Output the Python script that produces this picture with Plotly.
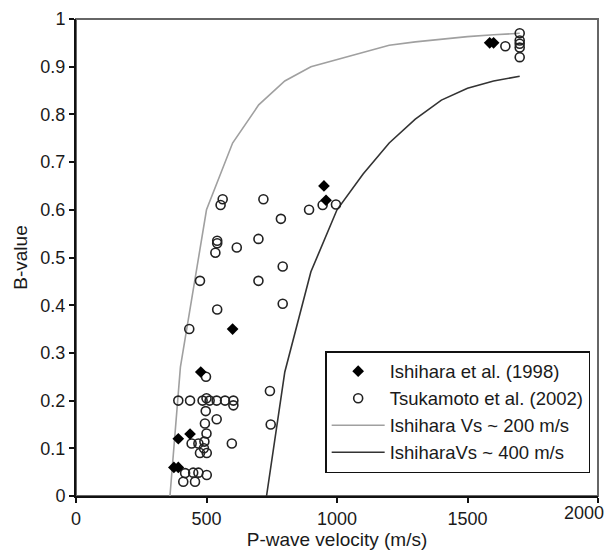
import plotly.graph_objects as go

# Ishihara et al. (1998) - filled diamonds
ish_vp = [1585, 1600, 950, 958, 600, 478, 437, 392, 375, 392]
ish_b = [0.95, 0.95, 0.65, 0.62, 0.35, 0.26, 0.13, 0.12, 0.06, 0.06]

# Tsukamoto et al. (2002) - open circles
tsu_vp = [1645, 1700, 1700, 1700, 1700, 1700,
          996, 945, 893, 785, 718, 562, 554, 699, 541, 541, 616, 534,
          792, 475, 699, 792, 541, 434,
          498, 392, 437, 485, 500, 512, 539, 571, 603, 603, 497, 539,
          494, 500, 743, 746, 443, 469, 492, 490, 475, 501, 597,
          418, 449, 469, 501, 411, 456]
tsu_b = [0.943, 0.97, 0.955, 0.948, 0.94, 0.92,
         0.611, 0.61, 0.60, 0.581, 0.622, 0.622, 0.61, 0.539, 0.535, 0.53, 0.521, 0.51,
         0.481, 0.451, 0.451, 0.403, 0.391, 0.35,
         0.25, 0.20, 0.20, 0.20, 0.205, 0.20, 0.20, 0.20, 0.20, 0.19, 0.178, 0.161,
         0.152, 0.131, 0.22, 0.15, 0.11, 0.11, 0.114, 0.10, 0.09, 0.09, 0.11,
         0.048, 0.049, 0.049, 0.044, 0.03, 0.03]

# Ishihara Vs ~ 200 m/s curve
vs200_vp = [360, 400, 500, 600, 700, 800, 900, 1000, 1100, 1200, 1300, 1400, 1500, 1600, 1700]
vs200_b = [0.0, 0.27, 0.60, 0.74, 0.82, 0.87, 0.90, 0.915, 0.93, 0.945, 0.952, 0.958, 0.963, 0.967, 0.970]

# Ishihara Vs ~ 400 m/s curve
vs400_vp = [730, 800, 900, 1000, 1100, 1200, 1300, 1400, 1500, 1600, 1700]
vs400_b = [0.0, 0.26, 0.47, 0.60, 0.675, 0.74, 0.79, 0.83, 0.855, 0.87, 0.88]

# axis ticks
x_tick_vals = [0, 500, 1000, 1500, 2000]
x_tick_labels = ["0", "500", "1000", "1500", "2000"]

FONT = "Liberation Sans, Arial, sans-serif"
TXT = "#1a1a1a"

fig = go.Figure()
fig.add_trace(go.Scatter(x=vs200_vp, y=vs200_b, mode="lines", name="Ishihara Vs ~ 200 m/s",
                         line=dict(color="#a0a0a0", width=1.6), legendrank=3))
fig.add_trace(go.Scatter(x=vs400_vp, y=vs400_b, mode="lines", name="IshiharaVs ~ 400 m/s",
                         line=dict(color="#333333", width=1.6), legendrank=4))
fig.add_trace(go.Scatter(x=tsu_vp, y=tsu_b, mode="markers", name="Tsukamoto et al. (2002)",
                         marker=dict(symbol="circle-open", size=9, color="#222222",
                                     line=dict(width=1.6, color="#222222")),
                         legendrank=2))
fig.add_trace(go.Scatter(x=ish_vp, y=ish_b, mode="markers", name="Ishihara et al. (1998)",
                         marker=dict(symbol="diamond", size=9, color="#000000"),
                         legendrank=1))

# last x tick label is pulled left to stay inside the page (as in the original)
fig.add_annotation(x=x_tick_vals[-1], y=0, xref="x", yref="paper", text=x_tick_labels[-1],
                   showarrow=False, xanchor="right", yanchor="top", xshift=8, yshift=-5,
                   font=dict(family=FONT, size=18, color=TXT))

fig.update_layout(
    width=610, height=550,
    margin=dict(l=76, r=12, t=19, b=54, autoexpand=False),
    paper_bgcolor="white", plot_bgcolor="white",
    font=dict(family=FONT, size=18, color=TXT),
    showlegend=True,
    legend=dict(x=0.985, y=0.048, xanchor="right", yanchor="bottom",
                bgcolor="white", bordercolor="#111111", borderwidth=1.5,
                font=dict(family=FONT, size=18.5, color=TXT),
                itemwidth=53),
    shapes=[dict(type="rect", xref="paper", yref="paper", x0=0, y0=0, x1=1, y1=1,
                 line=dict(color="#666666", width=2), layer="below")],
)
fig.update_xaxes(range=[0, 2000], tickvals=x_tick_vals,
                 ticktext=x_tick_labels[:-1] + [""],
                 showgrid=False, zeroline=False, automargin=False,
                 showline=True, linecolor="#111111", linewidth=2,
                 ticks="outside", ticklen=5, tickcolor="#111111", tickwidth=1.5,
                 tickfont=dict(size=18, color=TXT),
                 title=dict(text="P-wave velocity (m/s)", font=dict(size=19, color=TXT), standoff=8))
fig.update_yaxes(range=[0, 1], dtick=0.1, tick0=0, showgrid=False, zeroline=False,
                 automargin=False,
                 showline=True, linecolor="#111111", linewidth=2,
                 ticks="outside", ticklen=5, tickcolor="#111111", tickwidth=1.5,
                 tickfont=dict(size=18, color=TXT),
                 title=dict(text="B-value", font=dict(size=19, color=TXT), standoff=8))

fig.write_html("out.html")
